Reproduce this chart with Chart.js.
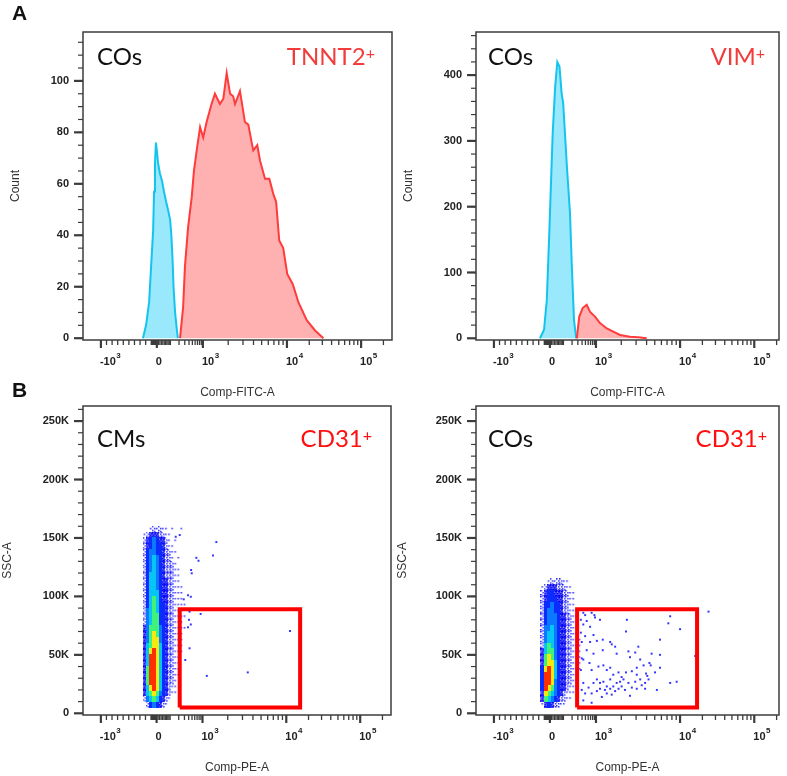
<!DOCTYPE html>
<html>
<head>
<meta charset="utf-8">
<script src="https://cdn.jsdelivr.net/npm/chart.js@4.4.1/dist/chart.umd.min.js"></script>
<style>
  body { margin: 0; background: #fff; }
  #page { position: relative; width: 787px; height: 776px; overflow: hidden; background: #fff; }
  canvas { position: absolute; }
  .letter { position: absolute; font: bold 21px "Liberation Sans", Arial, sans-serif; line-height: 1; color: #111; }
  .tag { position: absolute; font-family: Lato, "Open Sans", sans-serif; font-size: 24px; line-height: 1; white-space: nowrap; color: #111; }
  .tag.red { color: #f23c3c; }
  .tag.cd { color: #ff0f0f; }
  .tag sup { font-size: 16px; position: relative; top: -6px; vertical-align: baseline; }
</style>
</head>
<body>
<div id="page">
  <canvas id="pA1" width="395" height="402" style="left:0;top:0"></canvas>
  <canvas id="pA2" width="392" height="402" style="left:395px;top:0"></canvas>
  <canvas id="pB1" width="395" height="400" style="left:0;top:376px"></canvas>
  <canvas id="pB2" width="392" height="400" style="left:395px;top:376px"></canvas>

  <div class="letter" style="left:12px;top:2px">A</div>
  <div class="letter" style="left:12px;top:379px">B</div>

  <div class="tag" style="left:97px;top:44px">COs</div>
  <div class="tag red" style="right:412px;top:44px">TNNT2<sup>+</sup></div>
  <div class="tag" style="left:488px;top:44px">COs</div>
  <div class="tag red" style="right:22px;top:44px">VIM<sup>+</sup></div>

  <div class="tag" style="left:97px;top:426px">CMs</div>
  <div class="tag cd" style="right:415px;top:426px">CD31<sup>+</sup></div>
  <div class="tag" style="left:488px;top:426px">COs</div>
  <div class="tag cd" style="right:20px;top:426px">CD31<sup>+</sup></div>
</div>

<script>
const AXIS_FONT = '"Liberation Sans", Arial, sans-serif';

// x axis: biexponential display, x values below are display channels (0-1000 across the plot)
const X_TICK_VALUES = [-1000, 0, 1000, 10000, 100000];
const X_TICK_LABELS = [['-10', '3'], ['0', ''], ['10', '3'], ['10', '4'], ['10', '5']];
const X_TICK_CHANNELS = [58, 239, 388, 660, 900];

// A: TNNT2 histogram (unstained control in cyan, stained in red)
const TNNT2_CTRL_X = [194, 204, 214, 220, 227, 230, 233, 236, 239, 243, 249, 256, 262, 269, 275, 282, 286, 290, 293, 298, 304, 307];
const TNNT2_CTRL_Y = [0, 5, 14, 27, 42, 57, 68, 76, 73, 68, 64, 61, 57, 53, 50, 46, 40, 30, 20, 10, 3, 0];
const TNNT2_POS_X = [314, 324, 330, 340, 352, 359, 368, 379, 389, 400, 416, 427, 443, 454, 465, 476, 486, 492, 508, 524, 535, 546, 551, 564, 573, 589, 603, 616, 625, 635, 648, 661, 679, 697, 724, 751, 778];
const TNNT2_POS_Y = [0, 12, 28, 43, 55, 65, 73, 82, 78, 84, 91, 95, 91, 93, 103, 95, 94, 91, 96, 84, 83, 76, 73, 75, 69, 62, 62, 56, 53, 38, 35, 25, 21, 14, 7, 3, 0];

// A: VIM histogram
const VIM_CTRL_X = [207, 220, 229, 237, 248, 256, 263, 270, 277, 282, 294, 304, 310, 317, 324];
const VIM_CTRL_Y = [0, 13, 58, 160, 311, 382, 420, 413, 372, 357, 261, 190, 109, 28, 0];
const VIM_POS_X = [326, 334, 345, 358, 369, 385, 401, 423, 444, 466, 498, 525, 552];
const VIM_POS_Y = [0, 33, 46, 51, 40, 33, 23, 15, 10, 5, 2.5, 1.5, 0];

// B: dot plots. Density rows (top row first), one digit per 10-channel x 5K bin, 0 = empty .. 9 = densest
const DENS_X_BIN = 10;
const DENS_Y_BIN = 5;

const CM_DENS_X0 = 195;
const CM_DENS_Y_TOP = 160;
const CM_DENSITY = [
  '00121211010010',
  '12333221100000',
  '23454332101000',
  '23454432110000',
  '24554432211000',
  '24565432210100',
  '24565432221000',
  '24565432221100',
  '24665432221100',
  '24665433221100',
  '24665433221110',
  '24666433221110',
  '24676433221110',
  '24676443221111',
  '25676443221110',
  '25677443221111',
  '25677443221110',
  '35777543221111',
  '35787543221110',
  '35788543221110',
  '36788643221110',
  '36898643221110',
  '36998643221100',
  '36998643221100',
  '37998643221100',
  '37998643221100',
  '37998643221000',
  '36898643211000',
  '36787543211000',
  '25676432100000',
  '02454321000000'
];
const CM_EVENTS_X = [433, 422, 368, 375, 351, 353, 341, 350, 327, 346, 382, 344, 350, 341, 346, 332, 402, 535, 672, 314, 301, 312];
const CM_EVENTS_Y = [146.5, 135, 133, 130.5, 122.6, 119.8, 101, 99.7, 97.5, 87, 85, 80, 76, 73.6, 55.6, 45.6, 32, 35, 70.4, 152.5, 151, 83.5];
const CM_GATE_X = [314, 705];
const CM_GATE_Y = [5, 89];

const CO_DENS_X0 = 210;
const CO_DENS_Y_TOP = 115;
const CO_DENSITY = [
  '00121221100000',
  '12333222110000',
  '23443332211000',
  '23444332211000',
  '24454432211000',
  '24554432211100',
  '24555433221100',
  '24555433221100',
  '25565433221100',
  '25665433221100',
  '25665433221110',
  '26765433221110',
  '36775433221110',
  '37875433221110',
  '37886433221110',
  '48986433221110',
  '49986433221100',
  '49985433221100',
  '49875433211100',
  '38765432111000',
  '37654322110000',
  '13432211000000'
];
const CO_EVENTS_X = [347, 353, 374, 383, 385, 401, 339, 358, 347, 369, 488, 485, 628, 622, 660, 595, 339, 353, 380, 342,
  369, 391, 410, 434, 439, 450, 410, 455, 493, 525, 515, 531, 498, 568, 595, 561, 565, 542, 520, 504,
  485, 520, 550, 554, 579, 595, 358, 342, 347, 380, 367, 339, 374, 396, 412, 423, 434, 444, 461, 471,
  477, 493, 504, 455, 444, 434, 423, 412, 401, 391, 380, 364, 347, 353, 374, 391, 407, 423, 439, 450,
  461, 471, 482, 498, 520, 536, 547, 585, 628, 649, 709, 374, 347, 342, 401, 417, 434, 466, 515, 531,
  558, 547, 752];
const CO_EVENTS_Y = [86, 84, 86, 84, 82, 80, 80, 79, 76, 74, 80, 70, 83, 77, 72, 63, 69, 66, 67, 61,
  61, 62, 63, 61, 59, 57, 54, 51, 53, 57, 52, 46, 48, 51, 50, 43, 41, 41, 39, 36,
  35, 33, 34, 32, 35, 39, 54, 47, 46, 51, 43, 37, 37, 40, 41, 37, 39, 33, 35, 31,
  29, 26, 22, 26, 23, 21, 23, 27, 26, 29, 26, 22, 26, 17, 17, 19, 14, 17, 16, 19,
  21, 23, 20, 15, 21, 24, 21, 20, 26, 27, 49, 9, 11, 20, 21, 20, 29, 27, 27, 29,
  29, 26, 87];
const CO_GATE_X = [327, 715];
const CO_GATE_Y = [5, 89];

const LEVEL_COLORS = { 4: '#0a2cff', 5: '#0a78ff', 6: '#08c4f4', 7: '#40f27a', 8: '#f4ea12', 9: '#ff3000' };
const DOT_BLUE = '#2424ff';

// map a real fluorescence value to a display channel (for tick marks only)
function realToChannel(v) {
  const [cNeg, c0, c3, c4, c5] = X_TICK_CHANNELS;
  if (v < 0) return c0 + (v / 1000) * (c0 - cNeg);
  if (v < 1000) return c0 + (c3 - c0) * Math.asinh(v / 100) / Math.asinh(10);
  if (v < 10000) return c3 + (Math.log10(v) - 3) * (c4 - c3);
  return c4 + (Math.log10(v) - 4) * (c5 - c4);
}

function minorXValues() {
  const out = [];
  for (let k = 1; k <= 9; k++) {
    out.push(-k * 10, k * 10, -k * 100, k * 100);
    if (k > 1) out.push(k * 1000, k * 10000, k * 100000);
  }
  return out;
}

function range(from, to, step) {
  const out = [];
  for (let v = from; v <= to + 1e-9; v += step) out.push(v);
  return out;
}

const pts = (xs, ys) => xs.map((x, i) => ({ x, y: ys[i] }));

function buildCells(rows, x0, yTop) {
  const cells = [];
  rows.forEach((row, r) => {
    for (let c = 0; c < row.length; c++) {
      const level = +row[c];
      if (level > 0) cells.push({ x: x0 + (c + 0.5) * DENS_X_BIN, y: yTop - (r + 0.5) * DENS_Y_BIN, level });
    }
  });
  return cells.sort((a, b) => a.level - b.level);
}

// point style for one density cell, sized from the chart's own scales
function cellStyle(ctx) {
  const chart = ctx.chart;
  const level = ctx.raw && ctx.raw.level ? ctx.raw.level : 3;
  const { x, y } = chart.scales;
  if (!x || !y) return 'rect';
  const w = Math.round(Math.abs(x.getPixelForValue(DENS_X_BIN) - x.getPixelForValue(0))) + 1;
  const h = Math.round(Math.abs(y.getPixelForValue(0) - y.getPixelForValue(DENS_Y_BIN))) + 1;
  if (!(w > 1 && h > 1)) return 'rect';
  const key = level + ':' + w + 'x' + h;
  chart.$cells = chart.$cells || {};
  if (chart.$cells[key]) return chart.$cells[key];
  const c = document.createElement('canvas');
  c.width = w; c.height = h;
  const g = c.getContext('2d');
  g.fillStyle = DOT_BLUE;
  if (level >= 4) {
    g.fillStyle = LEVEL_COLORS[level];
    g.fillRect(0, 0, w, h);
  } else if (level === 3) {
    g.fillStyle = 'rgba(20,20,255,0.55)';
    g.fillRect(0, 0, w, h);
    g.fillStyle = '#0000f0';
    [[0, 0], [2, 1], [1, 3], [0, 5], [2, 5]].forEach(([px, py]) => g.fillRect(px, py, 1.6, 1.6));
  } else if (level === 2) {
    [[0, 0], [2, 2], [0, 4], [2, 5]].forEach(([px, py]) => g.fillRect(px, py, 1.5, 1.5));
  } else {
    g.fillRect(1, 2, 1.5, 1.5);
  }
  chart.$cells[key] = c;
  return c;
}

function histSets(ctrlX, ctrlY, posX, posY) {
  return [
    { type: 'line', data: pts(posX, posY), borderColor: '#ff3b3b', backgroundColor: 'rgba(255,125,125,0.6)',
      borderWidth: 2, fill: 'origin', pointRadius: 0, tension: 0 },
    { type: 'line', data: pts(ctrlX, ctrlY), borderColor: '#14c4ee', backgroundColor: 'rgba(110,222,250,0.7)',
      borderWidth: 2, fill: 'origin', pointRadius: 0, tension: 0 }
  ];
}

function dotSets(rows, x0, yTop, evX, evY, gateX, gateY) {
  const gate = [
    { x: gateX[0], y: gateY[0] }, { x: gateX[1], y: gateY[0] }, { x: gateX[1], y: gateY[1] },
    { x: gateX[0], y: gateY[1] }, { x: gateX[0], y: gateY[0] }
  ];
  return [
    { type: 'line', data: gate, borderColor: '#ff0000', borderWidth: 4, fill: false, pointRadius: 0,
      tension: 0, borderJoinStyle: 'miter' },
    { data: pts(evX, evY), pointStyle: 'rect', pointRadius: 1.4, backgroundColor: '#3434ff', borderWidth: 0 },
    { data: buildCells(rows, x0, yTop), pointStyle: cellStyle, pointRadius: 1, borderWidth: 0,
      backgroundColor: DOT_BLUE }
  ];
}

// box, tick marks and superscript x labels drawn at the scale positions
const flowAxes = {
  id: 'flowAxes',
  afterDatasetsDraw(chart, args, opts) {
    const { ctx, chartArea: a, scales: { x, y } } = chart;
    ctx.save();
    ctx.strokeStyle = '#3c3c3c';
    const seg = (x1, y1, x2, y2, w) => {
      ctx.lineWidth = w;
      ctx.beginPath(); ctx.moveTo(x1, y1); ctx.lineTo(x2, y2); ctx.stroke();
    };
    ctx.lineWidth = 1.5;
    ctx.strokeRect(a.left, a.top, a.right - a.left, a.bottom - a.top);

    opts.yMinor.forEach(v => {
      const py = y.getPixelForValue(v);
      if (py >= a.top && py <= a.bottom) seg(a.left - 5, py, a.left, py, 1.2);
    });
    opts.yMajor.forEach(v => {
      const py = y.getPixelForValue(v);
      seg(a.left - 9, py, a.left, py, 2.2);
    });

    minorXValues().forEach(v => {
      const px = x.getPixelForValue(realToChannel(v));
      if (px >= a.left && px <= a.right) seg(px, a.bottom, px, a.bottom + 5, 1.3);
    });
    ctx.fillStyle = '#222';
    ctx.textBaseline = 'middle';
    ctx.textAlign = 'left';
    X_TICK_VALUES.forEach((v, i) => {
      const px = x.getPixelForValue(X_TICK_CHANNELS[i]);
      seg(px, a.bottom, px, a.bottom + 8, 2.2);
      const [base, exp] = X_TICK_LABELS[i];
      ctx.font = 'bold 11px ' + AXIS_FONT;
      ctx.fillText(base, px - 1, a.bottom + 22);
      if (exp) {
        const bw = ctx.measureText(base).width;
        ctx.font = 'bold 8px ' + AXIS_FONT;
        ctx.fillText(exp, px - 1 + bw + 0.5, a.bottom + 16);
      }
    });
    ctx.restore();
  }
};

function makePanel(id, o) {
  return new Chart(document.getElementById(id), {
    type: 'scatter',
    data: { datasets: o.datasets },
    options: {
      responsive: false,
      animation: false,
      layout: { padding: { top: o.padTop, right: o.padRight, left: 0, bottom: 0 } },
      plugins: {
        legend: { display: false },
        tooltip: { enabled: false },
        flowAxes: { yMajor: o.yMajor, yMinor: o.yMinor }
      },
      scales: {
        x: {
          type: 'linear', min: 0, max: o.xMax,
          grid: { display: false, drawTicks: false }, border: { display: false },
          ticks: { display: false },
          title: { display: true, text: o.xTitle, color: '#333', font: { family: AXIS_FONT, size: 12 },
                   padding: { top: 0, bottom: o.xTitlePad } },
          afterFit: s => { s.height = o.xAxisH; }
        },
        y: {
          type: 'linear', min: o.yMin, max: o.yMax,
          grid: { display: false, drawTicks: false }, border: { display: false },
          ticks: { color: '#222', font: { family: AXIS_FONT, size: 11, weight: 'bold' }, padding: 14,
                   autoSkip: false, callback: o.yLabel || (v => v) },
          afterBuildTicks: s => { s.ticks = o.yMajor.map(v => ({ value: v })); },
          title: { display: true, text: o.yTitle, color: '#333', font: { family: AXIS_FONT, size: 12 },
                   padding: { top: o.yTitlePad, bottom: 0 } },
          afterFit: s => { s.width = o.yAxisW; }
        }
      }
    },
    plugins: [flowAxes]
  });
}

const kLabel = v => (v === 0 ? '0' : v + 'K');

makePanel('pA1', {
  datasets: histSets(TNNT2_CTRL_X, TNNT2_CTRL_Y, TNNT2_POS_X, TNNT2_POS_Y),
  padTop: 32, padRight: 3, yAxisW: 83, xAxisH: 62, xMax: 1000,
  yMin: -0.7, yMax: 119, yMajor: range(0, 100, 20), yMinor: range(5, 115, 5),
  xTitle: 'Comp-FITC-A', yTitle: 'Count', xTitlePad: 1.8, yTitlePad: 8.8
});

makePanel('pA2', {
  datasets: histSets(VIM_CTRL_X, VIM_CTRL_Y, VIM_POS_X, VIM_POS_Y),
  padTop: 32, padRight: 8, yAxisW: 81, xAxisH: 62, xMax: 980,
  yMin: -2.6, yMax: 465.5, yMajor: range(0, 400, 100), yMinor: range(20, 460, 20),
  xTitle: 'Comp-FITC-A', yTitle: 'Count', xTitlePad: 1.8, yTitlePad: 6.8
});

makePanel('pB1', {
  datasets: dotSets(CM_DENSITY, CM_DENS_X0, CM_DENS_Y_TOP, CM_EVENTS_X, CM_EVENTS_Y, CM_GATE_X, CM_GATE_Y),
  padTop: 30, padRight: 3, yAxisW: 83, xAxisH: 61, xMax: 1000,
  yMin: -1.45, yMax: 262.9, yMajor: range(0, 250, 50), yMinor: range(10, 260, 10), yLabel: kLabel,
  xTitle: 'Comp-PE-A', yTitle: 'SSC-A', xTitlePad: 0.8, yTitlePad: 0
});

makePanel('pB2', {
  datasets: dotSets(CO_DENSITY, CO_DENS_X0, CO_DENS_Y_TOP, CO_EVENTS_X, CO_EVENTS_Y, CO_GATE_X, CO_GATE_Y),
  padTop: 30, padRight: 8, yAxisW: 81, xAxisH: 61, xMax: 980,
  yMin: -1.45, yMax: 262.9, yMajor: range(0, 250, 50), yMinor: range(10, 260, 10), yLabel: kLabel,
  xTitle: 'Comp-PE-A', yTitle: 'SSC-A', xTitlePad: 0.8, yTitlePad: 0.3
});
</script>
</body>
</html>
